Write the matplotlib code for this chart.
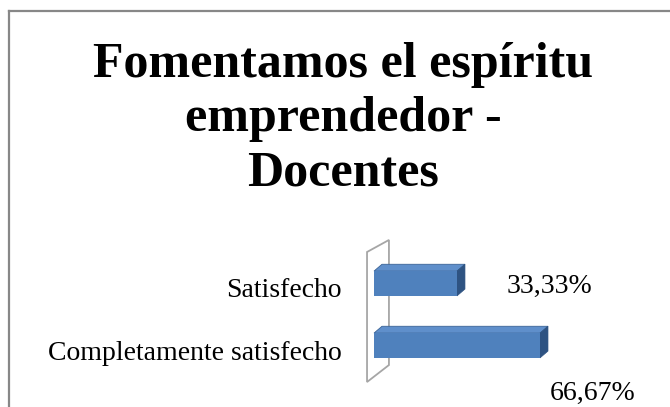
import matplotlib
matplotlib.use("Agg")
import matplotlib.pyplot as plt
from matplotlib.patches import Polygon
from matplotlib.lines import Line2D

categories = ["Completamente satisfecho", "Satisfecho"]
values = [66.67, 33.33]
value_labels = ["66,67%", "33,33%"]
title = "Fomentamos el espíritu\nemprendedor -\nDocentes"

FRONT = "#4F81BD"
TOP = "#5F8FCB"
SIDE = "#2E5382"
WALL_EDGE = "#A6A6A6"
FRAME = "#878787"

plt.rcParams["font.family"] = ["Liberation Serif", "DejaVu Serif"]

W, H = 670, 407
fig = plt.figure(figsize=(W / 100, H / 100), dpi=100)
fig.patch.set_facecolor("white")

# outer chart frame (right/bottom are cut off in the original)
fig.add_artist(Line2D([9 / W, 1.01], [1 - 11 / H] * 2, color=FRAME, lw=1.6,
                      transform=fig.transFigure))
fig.add_artist(Line2D([9 / W] * 2, [-0.01, 1 - 11 / H], color=FRAME, lw=1.6,
                      transform=fig.transFigure))

# data axes spanning the whole figure: 0% at x=374px, 2.49 px per %
ax = fig.add_axes([0, 0, 1, 1])
px_per = 2.49
x0 = 374
ax.set_xlim(-x0 / px_per, (W - x0) / px_per)
ax.set_ylim((345.5 - H) / 62, 345.5 / 62)
ax.axis("off")

# back wall of the 3D plot
wall = Polygon([(-2.8, 1.508), (6.0, 1.702), (6.0, -0.315), (-2.8, -0.589)],
               closed=True, facecolor="white", edgecolor=WALL_EDGE, lw=1.3, zorder=1)
ax.add_patch(wall)

ypos = list(range(len(categories)))
h = 0.4
dx, dy = 3.2, 0.11
ax.barh(ypos, values, height=h, color=FRONT, zorder=3)
for y, v in zip(ypos, values):
    top = Polygon([(0, y + h / 2), (v, y + h / 2), (v + dx, y + h / 2 + dy),
                   (dx, y + h / 2 + dy)], closed=True, facecolor=TOP,
                  edgecolor="#3A6396", lw=0.6, zorder=2)
    side = Polygon([(v, y - h / 2), (v, y + h / 2), (v + dx, y + h / 2 + dy),
                    (v + dx, y - h / 2 + dy)], closed=True, facecolor=SIDE,
                   edgecolor=SIDE, lw=0.5, zorder=2)
    ax.add_patch(top)
    ax.add_patch(side)

# category labels
cat_baseline = [-0.234, 0.782]
for yb, c in zip(cat_baseline, categories):
    ax.text(-12.9, yb, c, ha="right", va="baseline", fontsize=20, color="black")

# value labels (Excel-style placement)
label_pos = [(70.7, -0.879), (53.4, 0.847)]
for (lx, ly), t in zip(label_pos, value_labels):
    ax.text(lx, ly, t, ha="left", va="baseline", fontsize=20, color="black")

fig.text(343 / W, 1 - 42 / H, title, ha="center", va="top", fontsize=36,
         fontweight="bold", linespacing=1.23)

fig.savefig("out.png", dpi=100)
